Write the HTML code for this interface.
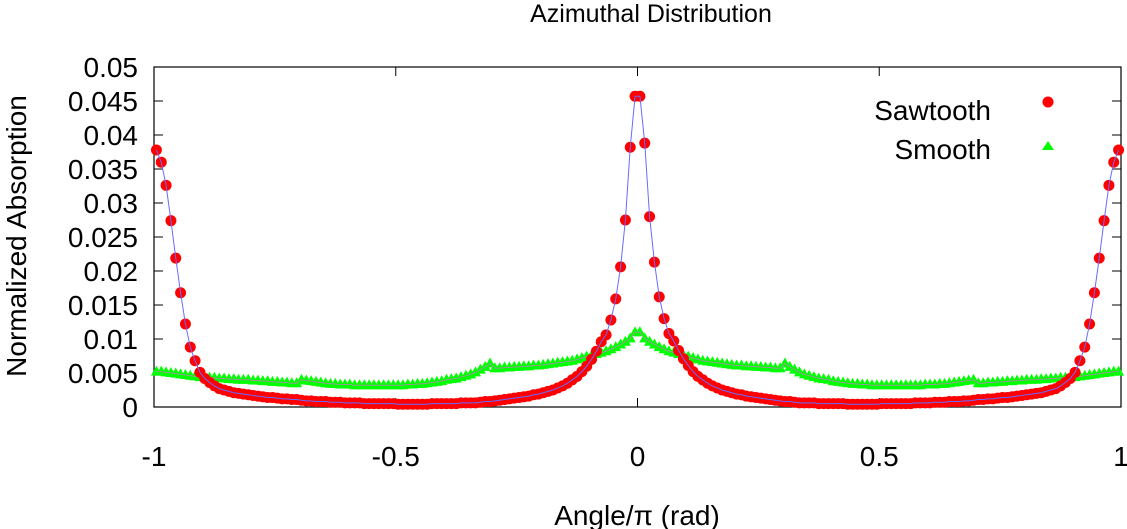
<!DOCTYPE html>
<html><head><meta charset="utf-8"><style>
html,body{margin:0;padding:0;background:#fff;}
svg{display:block;font-family:"Liberation Sans",Arial,sans-serif;}
</style></head><body>
<svg id="chart" width="1127" height="529" viewBox="0 0 1127 529" xmlns="http://www.w3.org/2000/svg">
<text x="651" y="22" font-size="25" text-anchor="middle">Azimuthal Distribution</text>
<text x="637" y="525" font-size="28" text-anchor="middle">Angle/π (rad)</text>
<text transform="translate(26,236) rotate(-90)" font-size="28" text-anchor="middle">Normalized Absorption</text>
<g id="axes"></g>
<g id="marks"></g>
<g>
<text x="991" y="120" font-size="28" text-anchor="end">Sawtooth</text>
<circle cx="1048" cy="102" r="5.5" fill="#ff0000"/>
<text x="991" y="159" font-size="28" text-anchor="end">Smooth</text>
<polygon points="1048,141 1054,150 1042,150" fill="#00ff00"/>
</g>
</svg>
<script>
const xTicks = [-1, -0.5, 0, 0.5, 1];
const xTickLabels = ["-1", "-0.5", "0", "0.5", "1"];
const yTicks = [0, 0.005, 0.01, 0.015, 0.02, 0.025, 0.03, 0.035, 0.04, 0.045, 0.05];
const yTickLabels = ["0", "0.005", "0.01", "0.015", "0.02", "0.025", "0.03", "0.035", "0.04", "0.045", "0.05"];
const sawtooth = [
0.0378,0.0360,0.0326,0.0274,0.0219,0.0168,0.0122,0.0088,0.0068,0.0051,
0.0042,0.0036,0.0031,0.0027,0.0025,0.0023,0.0021,0.0020,0.0019,0.0018,
0.0017,0.0016,0.0015,0.0014,0.0014,0.0013,0.0012,0.0012,0.0011,0.0011,
0.0010,0.0009,0.0009,0.0008,0.0008,0.0008,0.0007,0.0007,0.0007,0.0006,
0.0006,0.0006,0.0006,0.0005,0.0005,0.0005,0.0005,0.0005,0.0005,0.0005,
0.0004,0.0004,0.0004,0.0004,0.0004,0.0004,0.0004,0.0005,0.0005,0.0005,
0.0005,0.0005,0.0005,0.0006,0.0006,0.0006,0.0006,0.0007,0.0008,0.0008,
0.0009,0.0010,0.0011,0.0012,0.0013,0.0014,0.0015,0.0016,0.0018,0.0019,
0.0021,0.0023,0.0025,0.0028,0.0031,0.0035,0.0040,0.0045,0.0052,0.0060,
0.0070,0.0082,0.0096,0.0106,0.0128,0.0159,0.0206,0.0275,0.0382,0.0457,
0.0457,0.0388,0.0280,0.0213,0.0162,0.0130,0.0108,0.0097,0.0083,0.0071,
0.0061,0.0052,0.0045,0.0040,0.0035,0.0031,0.0028,0.0025,0.0023,0.0021,
0.0019,0.0018,0.0016,0.0015,0.0014,0.0013,0.0012,0.0011,0.0010,0.0009,
0.0008,0.0008,0.0007,0.0006,0.0006,0.0006,0.0006,0.0005,0.0005,0.0005,
0.0005,0.0005,0.0005,0.0004,0.0004,0.0004,0.0004,0.0004,0.0004,0.0004,
0.0005,0.0005,0.0005,0.0005,0.0005,0.0005,0.0005,0.0006,0.0006,0.0006,
0.0006,0.0007,0.0007,0.0007,0.0008,0.0008,0.0008,0.0009,0.0009,0.0010,
0.0011,0.0011,0.0012,0.0012,0.0013,0.0014,0.0014,0.0015,0.0016,0.0017,
0.0018,0.0019,0.0020,0.0021,0.0023,0.0025,0.0027,0.0031,0.0036,0.0042,
0.0051,0.0068,0.0088,0.0122,0.0168,0.0219,0.0274,0.0326,0.0360,0.0378];
const smooth = [
0.0052,0.0052,0.0051,0.0050,0.0049,0.0048,0.0047,0.0046,0.0045,0.0044,
0.0044,0.0043,0.0043,0.0042,0.0042,0.0041,0.0041,0.0040,0.0040,0.0040,
0.0039,0.0039,0.0038,0.0038,0.0037,0.0037,0.0036,0.0036,0.0035,0.0035,
0.0040,0.0039,0.0038,0.0037,0.0036,0.0035,0.0034,0.0034,0.0033,0.0033,
0.0033,0.0032,0.0032,0.0032,0.0032,0.0032,0.0032,0.0032,0.0032,0.0032,
0.0032,0.0032,0.0033,0.0033,0.0034,0.0034,0.0035,0.0036,0.0037,0.0038,
0.0040,0.0041,0.0042,0.0044,0.0046,0.0048,0.0051,0.0055,0.0059,0.0064,
0.0057,0.0057,0.0058,0.0058,0.0059,0.0059,0.0060,0.0060,0.0061,0.0061,
0.0062,0.0063,0.0064,0.0065,0.0066,0.0067,0.0068,0.0070,0.0072,0.0074,
0.0076,0.0078,0.0080,0.0082,0.0085,0.0088,0.0092,0.0096,0.0101,0.0110,
0.0110,0.0101,0.0096,0.0092,0.0088,0.0085,0.0082,0.0080,0.0078,0.0076,
0.0074,0.0072,0.0070,0.0068,0.0067,0.0066,0.0065,0.0064,0.0063,0.0062,
0.0061,0.0061,0.0060,0.0060,0.0059,0.0059,0.0058,0.0058,0.0057,0.0057,
0.0064,0.0059,0.0055,0.0051,0.0048,0.0046,0.0044,0.0042,0.0041,0.0040,
0.0038,0.0037,0.0036,0.0035,0.0034,0.0034,0.0033,0.0033,0.0032,0.0032,
0.0032,0.0032,0.0032,0.0032,0.0032,0.0032,0.0032,0.0032,0.0032,0.0033,
0.0033,0.0033,0.0034,0.0034,0.0035,0.0036,0.0037,0.0038,0.0039,0.0040,
0.0035,0.0035,0.0036,0.0036,0.0037,0.0037,0.0038,0.0038,0.0039,0.0039,
0.0040,0.0040,0.0040,0.0041,0.0041,0.0042,0.0042,0.0043,0.0043,0.0044,
0.0044,0.0045,0.0046,0.0047,0.0048,0.0049,0.0050,0.0051,0.0052,0.0052];
const xStart = -0.995, xStep = 0.01;

const L = 154, R = 1121, T = 67, B = 407;
const NS = "http://www.w3.org/2000/svg";
function sx(v){ return L + (v + 1) / 2 * (R - L); }
function sy(v){ return B - v / 0.05 * (B - T); }
function mk(tag, attrs, parent){
  const e = document.createElementNS(NS, tag);
  for (const k in attrs) e.setAttribute(k, attrs[k]);
  parent.appendChild(e);
  return e;
}
const axes = document.getElementById('axes');
const marks = document.getElementById('marks');

yTicks.forEach((v, i) => {
  const y = sy(v);
  const t1 = mk('line', {x1: L, x2: L + 9, y1: y, y2: y, stroke: '#000', 'stroke-width': 1}, axes);
  
  
  const t2 = mk('line', {x1: R - 9, x2: R, y1: y, y2: y, stroke: '#000', 'stroke-width': 1}, axes);
  
  
  const tx = mk('text', {x: 138, y: y + 10, 'font-size': 28, 'text-anchor': 'end'}, axes);
  tx.textContent = yTickLabels[i];
  
  
});
xTicks.forEach((v, i) => {
  const x = sx(v);
  const t1 = mk('line', {x1: x, x2: x, y1: B, y2: B - 9, stroke: '#000', 'stroke-width': 1}, axes);
  
  
  const t2 = mk('line', {x1: x, x2: x, y1: T, y2: T + 9, stroke: '#000', 'stroke-width': 1}, axes);
  
  
  const tx = mk('text', {x: x, y: 466, 'font-size': 28, 'text-anchor': 'middle'}, axes);
  tx.textContent = xTickLabels[i];
  
  
});
const frame = mk('rect', {x: L, y: T, width: R - L, height: B - T, fill: 'none', stroke: '#000', 'stroke-width': 1.2}, axes);



smooth.forEach((v, i) => {
  const x = sx(xStart + i * xStep), y = sy(v);
  const p = mk('polygon', {points: `${x},${y-6} ${x+5.5},${y+4} ${x-5.5},${y+4}`, fill: '#00ff00'}, marks);
  
  
});
const sl = mk('polyline', {points: smooth.map((v, i) => sx(xStart + i * xStep) + ',' + sy(v)).join(' '), fill: 'none', stroke: '#999', 'stroke-width': 1}, marks);



sawtooth.forEach((v, i) => {
  const c = mk('circle', {cx: sx(xStart + i * xStep), cy: sy(v), r: 5.5, fill: '#ff0000'}, marks);
  
  
});
const bl = mk('polyline', {points: sawtooth.map((v, i) => sx(xStart + i * xStep) + ',' + sy(v)).join(' '), fill: 'none', stroke: '#6a6aff', 'stroke-width': 1}, marks);


</script>
</body></html>
